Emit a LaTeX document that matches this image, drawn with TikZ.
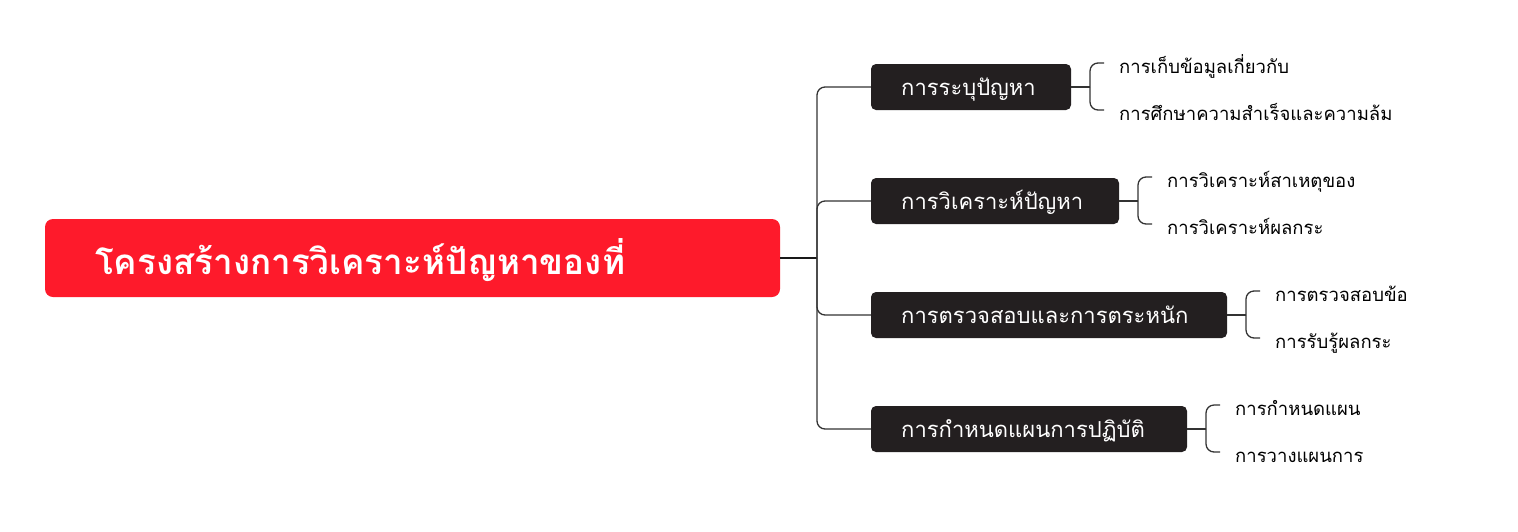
\documentclass[tikz,border=0pt]{standalone}
\usepackage{fontspec}
\setmainfont[Script=Thai]{Loma}
\usetikzlibrary{calc}
\definecolor{rootred}{HTML}{FE1A2B}
\definecolor{boxdark}{HTML}{231F20}
\definecolor{linegray}{HTML}{333333}
\tikzset{
  rootbox/.style={fill=rootred,rounded corners=8pt,draw=none,minimum width=735pt,minimum height=78pt,inner sep=0pt},
  mainbox/.style={fill=boxdark,rounded corners=5pt,draw=none,minimum height=46pt,inner sep=0pt},
  roottext/.style={anchor=base west,inner sep=0pt,text=white,font=\fontsize{35}{40}\selectfont\bfseries},
  maintext/.style={anchor=base west,inner sep=0pt,text=white,font=\fontsize{22}{26}\selectfont},
  leaftext/.style={anchor=base west,inner sep=0pt,text=black,font=\fontsize{18.5}{22}\selectfont},
  conn/.style={draw=linegray,line width=1.3pt,rounded corners=8pt},
  rootconn/.style={draw=black!90,line width=1.6pt}
}
\begin{document}
\begin{tikzpicture}[x=1pt,y=-1pt]
\useasboundingbox (0,0) rectangle (1518,531);
% root
\node[rootbox] (root) at (412.5,258) {};
\node[roottext] (rt) at (95,274) {โครงสร้างการวิเคราะห์ปัญหาของที่};
% main boxes
\node[mainbox,minimum width=200pt] (b1) at (971,87) {};
\node[mainbox,minimum width=248pt] (b2) at (995,201) {};
\node[mainbox,minimum width=356pt] (b3) at (1049,315) {};
\node[mainbox,minimum width=316pt] (b4) at (1029,429) {};
\node[maintext] (t1) at (901,95.5) {การระบุปัญหา};
\node[maintext] (t2) at (901,209.5) {การวิเคราะห์ปัญหา};
\node[maintext] (t3) at (901,323.5) {การตรวจสอบและการตระหนัก};
\node[maintext] (t4) at (901,437.5) {การกำหนดแผนการปฏิบัติ};
% trunk
\coordinate (tr) at (817,258);
\draw[rootconn] (root.east) -- (tr);
\foreach \b in {b1,b2,b3,b4}{\draw[conn] (tr) |- (\b.west);}
% leaves
\node[leaftext] (l11) at (1119,73.5) {การเก็บข้อมูลเกี่ยวกับ};
\node[leaftext] (l12) at (1119,120.5) {การศึกษาความสำเร็จและความล้ม};
\node[leaftext] (l21) at (1167,187.5) {การวิเคราะห์สาเหตุของ};
\node[leaftext] (l22) at (1167,234.5) {การวิเคราะห์ผลกระ};
\node[leaftext] (l31) at (1275,301.5) {การตรวจสอบข้อ};
\node[leaftext] (l32) at (1275,348.5) {การรับรู้ผลกระ};
\node[leaftext] (l41) at (1235,415.5) {การกำหนดแผน};
\node[leaftext] (l42) at (1235,462.5) {การวางแผนการ};
% leaf ends
\coordinate (e11) at (1104,63); \coordinate (e12) at (1104,110);
\coordinate (e21) at (1152,177); \coordinate (e22) at (1152,224);
\coordinate (e31) at (1260,291); \coordinate (e32) at (1260,338);
\coordinate (e41) at (1220,405); \coordinate (e42) at (1220,452);
\coordinate (k1) at (1090,87);
\coordinate (k2) at (1138,201);
\coordinate (k3) at (1246,315);
\coordinate (k4) at (1206,429);
\foreach \i in {1,2,3,4}{
  \draw[conn] (b\i.east) -- (k\i);
  \draw[conn] (k\i) |- (e\i1);
  \draw[conn] (k\i) |- (e\i2);
}
\end{tikzpicture}
\end{document}
